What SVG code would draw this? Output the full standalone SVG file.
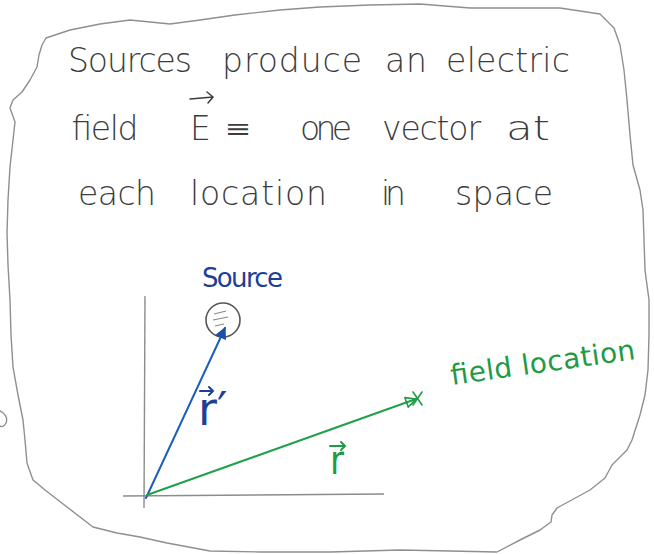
<svg xmlns="http://www.w3.org/2000/svg" width="654" height="554" viewBox="0 0 654 554">
  <style>
    .pencil { font-family: "DejaVu Sans", "Liberation Sans", sans-serif; font-weight: 200; fill: #3c3c3c; }
    .hand { font-size: 33px; }
    .border { fill: none; stroke: #8f8f8f; stroke-width: 1.4; stroke-linejoin: round; stroke-linecap: round; }
    .axis { fill: none; stroke: #8c8c8c; stroke-width: 1.4; }
    .blue { fill: #1d3f95; font-family: "DejaVu Sans", "Liberation Sans", sans-serif; }
    .green { fill: #1f9a45; font-family: "DejaVu Sans", "Liberation Sans", sans-serif; }
    .vec { fill: none; stroke-width: 2; stroke-linecap: round; stroke-linejoin: round; }
  </style>
  <defs>
    <marker id="openHead" viewBox="0 0 12 12" refX="11" refY="6" markerWidth="12" markerHeight="12" markerUnits="userSpaceOnUse" orient="auto">
      <path d="M1,1 L11,6 L1,11 Z" fill="none" stroke="#1f9a45" stroke-width="1.6"/>
    </marker>
    <marker id="blueHead" viewBox="0 0 12 12" refX="11" refY="6" markerWidth="12" markerHeight="12" markerUnits="userSpaceOnUse" orient="auto">
      <path d="M1,1 L11,6 L1,11 Z" fill="#1d4fa8" stroke="#1d4fa8" stroke-width="1.2"/>
    </marker>
  </defs>
  <rect width="654" height="554" fill="#ffffff"/>

  <!-- hand-drawn frame -->
  <path id="frame" class="border" d="M46,38 L70,30 L100,24 L130,20 L170,24 L200,20 L235,15 L280,10 L320,7 L370,5 L420,4 L470,8 L520,8 L560,8 L600,14 L614,28 L620,45 L624,70 L627,100 L630,135 L633,165 L640,190 L643,210 L644,240 L645,270 L649,300 L649,335 L648,370 L645,395 L640,415 L632,440 L627,450 L612,465 L605,478 L590,490 L557,508 L552,515 L551,522 L540,530 L520,540 L497,552 L450,551 L400,550 L330,552 L260,552 L210,551 L167,543 L140,537 L117,533 L93,527 L67,507 L45,490 L33,480 L27,463 L25,440 L23,420 L18,395 L13,367 L11,335 L10,300 L8,265 L7,233 L8,200 L10,167 L13,140 L15,122 L10,108 L13,100 L22,92 L30,80 L37,67 L39,55 L42,45 Z"/>

  <!-- stray pencil mark at left edge -->
  <path id="stray-mark" class="border" d="M0,411 C5,413 8,418 6,423 C4,427 1,427 0,426"/>

  <!-- heading text -->
  <g id="heading" class="pencil hand">
    <text x="68" y="72" textLength="124" lengthAdjust="spacing">Sources</text>
    <text x="222" y="72" textLength="140" lengthAdjust="spacing">produce</text>
    <text x="385" y="72" textLength="42" lengthAdjust="spacing">an</text>
    <text x="446" y="72" textLength="124" lengthAdjust="spacing">electric</text>

    <text x="70" y="140" textLength="67" lengthAdjust="spacing">field</text>
    <text x="190" y="140" textLength="23" lengthAdjust="spacing">E</text>
    <text x="226" y="138" font-size="26" textLength="24" lengthAdjust="spacingAndGlyphs">≡</text>
    <text x="300" y="140" textLength="52" lengthAdjust="spacing">one</text>
    <text x="382" y="140" textLength="99" lengthAdjust="spacing">vector</text>
    <text x="506" y="140" textLength="44" lengthAdjust="spacingAndGlyphs">at</text>

    <text x="78" y="205" textLength="78" lengthAdjust="spacing">each</text>
    <text x="190" y="205" textLength="137" lengthAdjust="spacing">location</text>
    <text x="381" y="205" textLength="25" lengthAdjust="spacing">in</text>
    <text x="455" y="205" textLength="98" lengthAdjust="spacing">space</text>
  </g>
  <!-- vector arrow over E -->
  <path id="E-arrow" d="M190,99 L213,97 M207,92 L213,97 L208,103" fill="none" stroke="#3c3c3c" stroke-width="1.5" stroke-linecap="round"/>

  <!-- axes -->
  <g id="axes">
    <path class="axis" d="M145,296 L144,508"/>
    <path class="axis" d="M123,496 L384,494"/>
  </g>

  <!-- source node -->
  <g id="source">
    <circle cx="223" cy="320" r="17" fill="none" stroke="#555555" stroke-width="1.6"/>
    <path d="M214,314 L226,311 M213,320 L228,317 M215,326 L224,324" fill="none" stroke="#888888" stroke-width="1.2"/>
    <text class="blue" x="202" y="287" font-size="26" textLength="81" lengthAdjust="spacing">Source</text>
  </g>

  <!-- field location node -->
  <g id="field-location">
    <path d="M413,392 L422,405 M422,392 L413,405" fill="none" stroke="#1f9a45" stroke-width="1.6" stroke-linecap="round"/>
    <text class="green" x="452" y="385" font-size="28" transform="rotate(-8 452 385)" textLength="186" lengthAdjust="spacing">field location</text>
  </g>

  <!-- connectors -->
  <g id="connectors">
    <path id="r-prime" class="vec" d="M146,498 L225,328" stroke="#1d5fb8" marker-end="url(#blueHead)"/>
    <path id="r-vec" class="vec" d="M147,495 L416,399" stroke="#22a049" stroke-width="2.4" marker-end="url(#openHead)"/>
  </g>

  <!-- vector labels -->
  <g id="label-r-prime">
    <text class="blue" x="198" y="425" font-size="46">r′</text>
    <path d="M200,391 L213,391 M209,387 L213,391 L209,395" fill="none" stroke="#1d3f95" stroke-width="2" stroke-linecap="round"/>
  </g>
  <g id="label-r">
    <text class="green" x="330" y="474" font-size="40" textLength="14" lengthAdjust="spacingAndGlyphs">r</text>
    <path d="M330,446 L345,446 M341,442 L345,446 L341,450" fill="none" stroke="#1f9a45" stroke-width="2" stroke-linecap="round"/>
  </g>
</svg>
